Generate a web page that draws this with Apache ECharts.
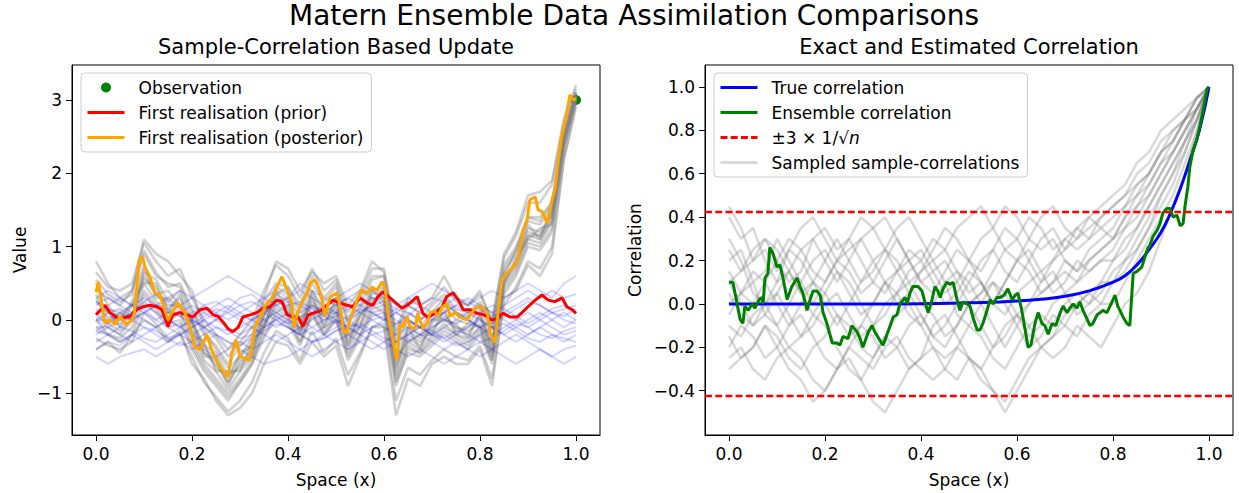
<!DOCTYPE html>
<html>
<head>
<meta charset="utf-8">
<script src="https://cdn.jsdelivr.net/npm/echarts@6/dist/echarts.min.js"></script>
<style>
  html, body { margin: 0; padding: 0; background: #fff; }
  #chart { width: 1239px; height: 493px; }
</style>
</head>
<body>
<div id="chart"></div>
<script>
// shared x grid for the ensemble members
const gridX = [0,0.025,0.05,0.075,0.1,0.125,0.15,0.175,0.2,0.225,0.25,0.275,0.3,0.325,0.35,0.375,0.4,0.425,0.45,0.475,0.5,0.525,0.55,0.575,0.6,0.625,0.65,0.675,0.7,0.725,0.75,0.775,0.8,0.825,0.85,0.875,0.9,0.925,0.95,0.975,1];

// posterior ensemble (grey, left panel)
const posteriorMembers = [
  [0.65,0.45,0.4,0.5,1.05,0.8,0.6,0.7,0.3,0.0,-0.2,-0.4,-0.2,0.0,0.4,0.75,0.6,0.3,0.7,0.4,0.55,0.1,0.35,0.7,0.7,-0.2,0.2,0.1,0.25,0.45,0.25,0.2,0.35,0.0,0.85,1.15,1.6,1.6,1.85,2.7,3.15],
  [-0.25,-0.35,-0.4,-0.3,0.1,-0.05,-0.25,-0.2,-0.5,-0.85,-1.05,-1.25,-1.1,-0.85,-0.45,-0.15,-0.25,-0.55,-0.15,-0.45,-0.25,-0.75,-0.45,-0.1,-0.05,-1.1,-0.65,-0.75,-0.55,-0.4,-0.5,-0.55,-0.35,-0.8,0.2,0.45,0.8,0.7,1.0,2.2,2.95],
  [0.4,0.3,0.2,0.4,0.9,0.6,0.5,0.45,0.1,-0.2,-0.35,-0.6,-0.35,-0.2,0.25,0.5,0.45,0.1,0.5,0.25,0.45,-0.05,0.2,0.55,0.6,-0.35,0.0,-0.1,0.1,0.3,0.1,0.05,0.2,-0.15,0.75,1.0,1.4,1.35,1.6,2.6,3.1],
  [0.0,-0.2,-0.25,-0.1,0.35,0.15,-0.05,0.0,-0.35,-0.65,-0.85,-1.05,-0.85,-0.6,-0.25,0.05,-0.05,-0.35,0.05,-0.2,0.0,-0.55,-0.25,0.05,0.1,-0.85,-0.45,-0.5,-0.35,-0.2,-0.3,-0.4,-0.2,-0.6,0.35,0.6,1.0,0.95,1.2,2.35,3.0],
  [0.3,0.0,0.1,0.0,0.7,0.3,0.3,0.15,0.0,-0.45,-0.55,-0.9,-0.55,-0.5,0.1,0.25,0.3,-0.2,0.35,-0.1,0.3,-0.35,0.1,0.2,0.45,-0.7,-0.1,-0.4,0.0,0.0,-0.05,-0.25,0.1,-0.45,0.6,0.75,1.3,1.1,1.5,2.5,3.05],
  [0.1,0.15,-0.1,0.2,0.5,0.5,0.1,0.35,-0.2,-0.3,-0.7,-0.7,-0.7,-0.3,-0.1,0.4,0.1,0.0,0.2,0.1,0.1,-0.2,-0.1,0.4,0.25,-0.5,-0.3,-0.2,-0.2,0.15,-0.2,-0.05,-0.1,-0.3,0.5,0.85,1.1,1.25,1.3,2.4,3.1],
  [0.8,0.5,0.3,0.4,1.1,0.9,0.8,0.6,0.4,-0.1,-0.25,-0.5,-0.3,-0.1,0.3,0.8,0.7,0.4,0.65,0.5,0.6,0.2,0.4,0.8,0.65,-0.15,0.3,0.2,0.3,0.6,0.3,0.2,0.4,-0.05,0.9,1.2,1.7,1.75,1.9,2.75,3.2],
  [-0.4,-0.3,-0.45,-0.2,0.0,-0.1,-0.3,-0.15,-0.6,-0.8,-1.1,-1.3,-1.2,-1.0,-0.6,-0.3,-0.35,-0.6,-0.3,-0.5,-0.35,-0.9,-0.5,-0.1,-0.1,-1.3,-0.8,-0.9,-0.6,-0.5,-0.6,-0.6,-0.4,-0.9,0.3,0.4,0.75,0.6,0.9,2.2,2.9],
  [0.5,0.2,0.0,0.25,0.75,0.35,0.4,0.2,-0.05,-0.5,-0.5,-0.85,-0.45,-0.35,0.15,0.35,0.25,-0.15,0.4,0.05,0.25,-0.25,0.05,0.35,0.4,-0.55,-0.15,-0.25,-0.05,0.1,-0.15,-0.1,0.05,-0.35,0.65,0.9,1.25,1.2,1.45,2.5,3.05],
  [-0.1,-0.1,-0.2,0.0,0.4,0.2,0.0,0.1,-0.3,-0.6,-0.8,-1.0,-0.8,-0.55,-0.2,0.1,0.0,-0.3,0.1,-0.15,0.05,-0.5,-0.2,0.15,0.2,-0.9,-0.4,-0.45,-0.3,-0.15,-0.25,-0.35,-0.15,-0.55,0.4,0.65,1.05,1.0,1.25,2.35,3.0],
  [0.35,0.1,0.15,0.05,0.65,0.55,0.25,0.4,0.0,-0.35,-0.45,-0.75,-0.5,-0.25,0.05,0.45,0.35,0.0,0.4,0.15,0.3,-0.2,0.15,0.4,0.45,-0.45,-0.1,-0.2,0.0,0.2,0.0,-0.05,0.15,-0.3,0.6,0.95,1.35,1.3,1.55,2.55,3.1],
  [0.1,-0.05,-0.15,0.0,0.5,0.25,0.1,0.1,-0.2,-0.55,-0.7,-0.95,-0.7,-0.5,-0.1,0.2,0.1,-0.2,0.2,-0.1,0.1,-0.4,-0.1,0.2,0.25,-0.75,-0.3,-0.4,-0.2,-0.05,-0.2,-0.25,-0.1,-0.5,0.45,0.7,1.1,1.05,1.35,2.4,3.0],
  [0.55,0.35,0.25,0.35,0.95,0.65,0.45,0.5,0.15,-0.15,-0.4,-0.65,-0.5,-0.35,-0.05,0.15,0.05,-0.3,0.1,-0.2,0.0,-0.45,-0.2,0.1,0.15,-0.8,-0.35,-0.45,-0.25,-0.1,-0.2,-0.3,-0.1,-0.55,0.5,0.75,1.15,1.1,1.35,2.45,3.05],
  [-0.15,-0.2,-0.3,-0.2,0.25,0.1,-0.1,-0.05,-0.4,-0.7,-0.9,-1.1,-0.85,-0.6,-0.1,0.35,0.45,0.2,0.6,0.3,0.5,0.0,0.3,0.6,0.6,-0.3,0.1,0.0,0.2,0.35,0.15,0.1,0.25,-0.1,0.7,0.95,1.4,1.4,1.6,2.6,3.1],
  [0.25,0.1,0.05,0.2,0.55,0.45,0.15,0.3,-0.05,-0.35,-0.65,-0.75,-0.65,-0.45,0.05,0.3,0.15,-0.05,0.25,0.05,0.15,-0.3,0.05,0.25,0.35,-0.65,-0.2,-0.3,-0.15,0.05,-0.1,-0.2,0.05,-0.4,0.55,0.8,1.2,1.15,1.45,2.45,3.05],
  [0.0,0.0,-0.05,0.05,0.6,0.35,0.2,0.2,-0.15,-0.45,-0.6,-0.85,-0.6,-0.4,-0.05,0.25,0.2,-0.15,0.3,-0.05,0.2,-0.35,-0.05,0.3,0.3,-0.6,-0.25,-0.35,-0.1,0.0,-0.1,-0.15,-0.05,-0.45,0.5,0.8,1.15,1.15,1.4,2.5,3.05]
];

// prior ensemble (faint blue, left panel)
const priorMembers = [
  [0.1,0.2,0.3,0.2,0.1,0.2,0.3,0.4,0.3,0.2,0.1,0.0,0.1,0.2,0.3,0.4,0.3,0.5,0.4,0.3,0.2,0.3,0.4,0.3,0.2,0.1,0.2,0.1,0.0,0.1,0.2,0.3,0.2,0.1,0.2,0.3,0.4,0.3,0.4,0.3,0.35],
  [-0.4,-0.3,-0.35,-0.2,-0.3,-0.4,-0.3,-0.2,-0.3,-0.4,-0.5,-0.4,-0.3,-0.4,-0.3,-0.2,-0.3,-0.4,-0.5,-0.4,-0.3,-0.2,-0.3,-0.4,-0.3,-0.2,-0.1,-0.2,-0.3,-0.4,-0.3,-0.4,-0.5,-0.4,-0.3,-0.2,-0.3,-0.4,-0.5,-0.4,-0.35],
  [0.0,0.1,-0.1,0.0,0.1,0.0,-0.1,-0.2,-0.1,0.0,0.1,0.2,0.1,0.0,-0.1,0.0,0.1,0.0,-0.1,-0.2,-0.1,0.0,0.1,0.2,0.1,0.0,-0.1,0.0,0.1,0.2,0.1,0.0,-0.1,0.0,0.1,0.0,-0.1,0.0,0.1,0.0,-0.05],
  [0.2,0.3,0.2,0.1,0.0,-0.1,0.0,0.1,0.2,0.1,0.0,-0.1,-0.2,-0.1,0.0,0.1,0.0,-0.1,0.0,0.1,0.2,0.3,0.2,0.1,0.0,0.1,0.0,-0.1,-0.2,-0.1,0.0,0.1,0.2,0.1,0.0,-0.1,-0.2,-0.1,0.0,0.1,0.0],
  [-0.2,-0.1,-0.2,-0.3,-0.2,-0.1,0.0,-0.1,-0.2,-0.1,0.0,0.1,0.0,-0.1,-0.2,-0.3,-0.2,-0.1,-0.2,-0.1,0.0,-0.1,-0.2,-0.3,-0.4,-0.3,-0.2,-0.1,-0.2,-0.3,-0.2,-0.1,0.0,-0.1,-0.2,-0.3,-0.2,-0.1,-0.2,-0.3,-0.2],
  [0.3,0.4,0.3,0.2,0.3,0.2,0.1,0.2,0.3,0.4,0.5,0.6,0.5,0.4,0.3,0.2,0.3,0.4,0.3,0.2,0.3,0.4,0.5,0.4,0.3,0.2,0.3,0.4,0.5,0.4,0.3,0.2,0.3,0.4,0.3,0.4,0.5,0.4,0.3,0.5,0.6],
  [-0.5,-0.6,-0.5,-0.45,-0.4,-0.5,-0.4,-0.3,-0.4,-0.3,-0.2,-0.3,-0.4,-0.5,-0.6,-0.55,-0.5,-0.4,-0.3,-0.2,-0.3,-0.4,-0.3,-0.2,-0.3,-0.4,-0.5,-0.4,-0.5,-0.6,-0.5,-0.4,-0.3,-0.4,-0.5,-0.6,-0.5,-0.4,-0.5,-0.6,-0.5],
  [0.05,-0.05,0.1,0.2,0.15,0.0,0.1,0.05,-0.05,0.05,0.15,0.1,0.2,0.25,0.15,0.05,-0.05,0.05,0.1,0.2,0.1,0.0,-0.1,0.0,0.05,0.15,0.25,0.2,0.1,0.0,-0.05,0.05,0.1,0.2,0.15,0.05,-0.05,0.05,0.15,0.2,0.1],
  [-0.1,-0.2,-0.3,-0.2,-0.1,-0.15,-0.25,-0.35,-0.3,-0.2,-0.1,-0.15,-0.25,-0.2,-0.1,0.0,-0.1,-0.2,-0.3,-0.25,-0.15,-0.05,-0.1,-0.2,-0.15,-0.05,0.0,-0.1,-0.2,-0.25,-0.15,-0.2,-0.3,-0.25,-0.15,-0.05,-0.1,-0.2,-0.25,-0.15,-0.1],
  [0.15,0.05,0.0,0.1,0.25,0.35,0.25,0.1,0.0,-0.1,0.0,0.15,0.3,0.35,0.2,0.1,0.2,0.25,0.15,0.05,-0.05,0.05,0.15,0.1,0.0,-0.05,0.05,0.2,0.3,0.25,0.1,0.0,-0.1,-0.05,0.05,0.15,0.25,0.2,0.1,0.05,0.15],
  [0.0,-0.1,0.0,0.1,0.2,0.1,0.0,-0.1,0.0,0.1,0.2,0.3,0.2,0.1,0.0,-0.1,0.0,0.1,0.2,0.1,0.0,-0.1,-0.2,-0.1,0.0,0.1,0.0,-0.1,0.0,0.1,0.2,0.1,0.0,-0.1,-0.2,-0.1,0.0,0.1,0.0,-0.1,0.0],
  [-0.15,-0.05,0.05,0.0,-0.1,-0.2,-0.3,-0.2,-0.1,0.0,-0.1,-0.2,-0.1,0.0,0.1,0.0,-0.1,-0.2,-0.1,0.0,0.1,0.2,0.1,0.0,-0.1,-0.2,-0.3,-0.2,-0.1,0.0,0.1,0.0,-0.1,-0.2,-0.1,0.0,0.1,0.0,-0.1,-0.2,-0.15],
  [0.25,0.15,0.1,0.0,0.1,0.2,0.15,0.05,0.1,0.2,0.25,0.15,0.05,0.0,0.1,0.2,0.25,0.2,0.1,0.0,0.05,0.15,0.2,0.3,0.25,0.15,0.1,0.0,0.1,0.2,0.3,0.25,0.15,0.05,0.1,0.2,0.3,0.2,0.1,0.15,0.2],
  [-0.3,-0.2,-0.1,-0.15,-0.25,-0.3,-0.2,-0.1,0.0,-0.1,-0.2,-0.3,-0.35,-0.25,-0.15,-0.05,-0.1,-0.2,-0.3,-0.25,-0.15,-0.1,-0.05,-0.15,-0.25,-0.3,-0.2,-0.1,-0.15,-0.25,-0.35,-0.3,-0.2,-0.1,-0.05,-0.15,-0.25,-0.3,-0.2,-0.25,-0.3]
];

// first realisation, prior and posterior  [x, value]
const firstPrior = [[0,0.07],[0.019,0.2],[0.029,0.1],[0.044,0.03],[0.058,0.03],[0.071,0.05],[0.085,0.14],[0.098,0.18],[0.1125,0.2],[0.127,0.18],[0.1375,0.14],[0.15,-0.09],[0.16,0.07],[0.175,0.1],[0.19,0.07],[0.202,0.04],[0.217,0.14],[0.231,0.16],[0.244,0.07],[0.254,0.05],[0.265,-0.03],[0.275,-0.12],[0.285,-0.16],[0.296,-0.1],[0.306,0.04],[0.321,0.07],[0.335,0.1],[0.348,0.16],[0.3625,0.18],[0.377,0.27],[0.3875,0.25],[0.398,0.07],[0.41,0.04],[0.421,0.04],[0.431,-0.09],[0.442,0.07],[0.456,0.1],[0.467,0.12],[0.481,0.2],[0.494,0.27],[0.508,0.23],[0.523,0.2],[0.535,0.18],[0.55,0.3],[0.565,0.23],[0.577,0.2],[0.5875,0.32],[0.598,0.38],[0.6125,0.3],[0.627,0.22],[0.6375,0.16],[0.648,0.2],[0.658,0.25],[0.669,0.32],[0.681,0.09],[0.692,0.03],[0.706,0.09],[0.721,0.18],[0.731,0.32],[0.744,0.37],[0.754,0.28],[0.765,0.14],[0.779,0.14],[0.794,0.09],[0.808,0.07],[0.825,0.0],[0.835,0.02],[0.848,0.09],[0.8625,0.04],[0.877,0.04],[0.8875,0.1],[0.9,0.18],[0.915,0.27],[0.929,0.34],[0.942,0.27],[0.956,0.25],[0.971,0.3],[0.981,0.18],[0.992,0.14],[1,0.09]];
const firstPosterior = [[0,0.38],[0.005,0.52],[0.018,-0.04],[0.03,0.0],[0.04,-0.06],[0.05,0.05],[0.063,-0.06],[0.075,0.0],[0.08,0.1],[0.086,0.5],[0.09,0.82],[0.097,0.86],[0.102,0.72],[0.112,0.59],[0.123,0.37],[0.133,0.35],[0.14,0.2],[0.15,0.0],[0.158,0.1],[0.171,0.23],[0.185,0.1],[0.196,-0.1],[0.206,-0.37],[0.217,-0.4],[0.231,-0.2],[0.242,-0.43],[0.258,-0.64],[0.275,-0.78],[0.283,-0.45],[0.292,-0.27],[0.3,-0.5],[0.3125,-0.53],[0.32,-0.55],[0.331,-0.1],[0.342,0.04],[0.356,0.23],[0.367,0.3],[0.377,0.45],[0.3875,0.59],[0.398,0.41],[0.408,0.23],[0.4125,-0.11],[0.42,0.1],[0.431,0.27],[0.44,0.36],[0.446,0.5],[0.456,0.55],[0.4625,0.46],[0.471,0.27],[0.477,0.05],[0.4875,0.31],[0.502,0.37],[0.508,0.2],[0.515,-0.14],[0.523,-0.18],[0.529,0.0],[0.544,0.27],[0.554,0.41],[0.565,0.36],[0.575,0.45],[0.585,0.4],[0.596,0.52],[0.602,0.45],[0.608,0.09],[0.617,-0.23],[0.627,-0.55],[0.633,-0.05],[0.64,-0.1],[0.648,0.05],[0.654,-0.09],[0.665,-0.12],[0.67,0.09],[0.681,-0.12],[0.69,-0.04],[0.696,0.1],[0.706,0.12],[0.7125,0.05],[0.721,0.18],[0.731,0.22],[0.7375,0.05],[0.748,0.1],[0.758,0.04],[0.773,0.0],[0.783,0.1],[0.794,0.18],[0.804,0.18],[0.815,0.1],[0.821,-0.18],[0.831,-0.31],[0.8375,0.1],[0.846,0.55],[0.856,0.64],[0.869,0.72],[0.879,0.82],[0.89,1.23],[0.898,1.36],[0.904,1.64],[0.915,1.68],[0.921,1.5],[0.929,1.48],[0.94,1.32],[0.95,1.64],[0.956,1.77],[0.9625,2.14],[0.971,2.55],[0.977,2.69],[0.983,2.91],[0.9875,3.07],[0.994,3.0],[1,3.02]];
const observation = [[1.0, 3.0]];

// right panel: sampled sample-correlations (grey)
const sampleCorrMembers = [
  [0.2,0.25,0.1,0.15,0.3,0.2,0.1,0.0,0.1,0.2,0.15,0.05,0.1,0.2,0.3,0.2,0.1,0.05,0.15,0.25,0.2,0.1,0.0,0.1,0.2,0.25,0.15,0.2,0.3,0.25,0.3,0.35,0.3,0.4,0.5,0.55,0.65,0.7,0.8,0.9,1.0],
  [-0.2,-0.1,-0.15,-0.25,-0.2,-0.1,-0.05,-0.15,-0.25,-0.3,-0.2,-0.1,-0.15,-0.25,-0.2,-0.1,-0.05,-0.15,-0.2,-0.1,0.0,-0.1,-0.2,-0.15,-0.05,-0.1,-0.2,-0.15,-0.05,0.0,0.05,0.0,0.1,0.2,0.25,0.35,0.45,0.55,0.7,0.85,1.0],
  [0.4,0.3,0.35,0.2,0.1,0.15,0.25,0.3,0.2,0.1,0.2,0.3,0.35,0.4,0.3,0.2,0.1,0.15,0.2,0.1,0.0,0.05,0.15,0.25,0.3,0.4,0.35,0.25,0.3,0.35,0.3,0.4,0.45,0.5,0.6,0.65,0.75,0.8,0.85,0.95,1.0],
  [0.0,0.05,0.1,-0.05,-0.1,0.0,0.1,0.2,0.25,0.15,0.05,-0.05,0.0,0.1,0.05,-0.05,-0.1,0.0,0.1,0.15,0.05,0.1,0.0,-0.05,0.05,0.1,0.15,0.05,0.1,0.2,0.15,0.2,0.25,0.35,0.4,0.5,0.6,0.7,0.8,0.9,1.0],
  [-0.3,-0.25,-0.2,-0.1,-0.2,-0.3,-0.35,-0.45,-0.4,-0.3,-0.25,-0.35,-0.45,-0.5,-0.4,-0.3,-0.25,-0.2,-0.3,-0.35,-0.25,-0.3,-0.4,-0.45,-0.35,-0.25,-0.2,-0.15,-0.1,-0.15,-0.05,0.0,0.0,0.1,0.2,0.3,0.4,0.5,0.65,0.8,1.0],
  [0.1,0.15,0.25,0.3,0.2,0.1,0.15,0.3,0.35,0.25,0.3,0.4,0.35,0.25,0.15,0.2,0.25,0.15,0.05,0.1,0.2,0.3,0.35,0.45,0.4,0.3,0.25,0.3,0.2,0.15,0.25,0.3,0.35,0.45,0.55,0.6,0.7,0.75,0.85,0.95,1.0],
  [-0.1,-0.15,-0.05,0.0,-0.1,-0.2,-0.15,-0.05,-0.1,-0.2,-0.3,-0.35,-0.25,-0.15,-0.2,-0.3,-0.25,-0.1,-0.05,-0.15,-0.25,-0.3,-0.2,-0.1,-0.05,-0.15,-0.1,0.0,0.05,-0.05,0.0,0.05,0.15,0.2,0.3,0.4,0.5,0.6,0.75,0.85,1.0],
  [0.3,0.2,0.05,0.0,0.1,0.25,0.2,0.1,0.0,-0.1,0.0,0.1,0.2,0.1,0.0,0.05,0.15,0.2,0.1,-0.05,-0.1,0.0,0.1,0.05,-0.05,0.0,0.05,0.1,0.15,0.1,0.2,0.25,0.3,0.35,0.45,0.5,0.6,0.7,0.8,0.9,1.0],
  [-0.25,-0.2,-0.3,-0.35,-0.25,-0.2,-0.25,-0.35,-0.4,-0.3,-0.2,-0.25,-0.3,-0.2,-0.15,-0.25,-0.3,-0.35,-0.3,-0.2,-0.25,-0.35,-0.4,-0.5,-0.4,-0.3,-0.2,-0.25,-0.2,-0.1,-0.15,-0.2,-0.1,0.0,0.05,0.15,0.3,0.45,0.6,0.8,1.0],
  [0.45,0.35,0.2,0.25,0.15,0.25,0.35,0.4,0.3,0.2,0.25,0.3,0.2,0.25,0.35,0.4,0.3,0.2,0.25,0.35,0.4,0.45,0.35,0.25,0.2,0.3,0.4,0.45,0.35,0.3,0.4,0.45,0.5,0.55,0.65,0.7,0.8,0.85,0.9,0.95,1.0],
  [0.05,-0.05,-0.1,0.0,0.05,-0.05,-0.15,-0.1,0.0,0.05,-0.05,-0.15,-0.1,0.0,0.05,0.1,0.0,-0.05,-0.15,-0.1,0.0,0.05,0.1,0.0,-0.1,-0.2,-0.15,-0.05,-0.1,0.0,0.05,0.1,0.2,0.25,0.35,0.45,0.55,0.65,0.75,0.9,1.0],
  [0.15,0.05,0.0,0.1,0.2,0.3,0.25,0.15,0.1,0.2,0.3,0.2,0.1,0.05,0.15,0.25,0.2,0.3,0.25,0.15,0.1,0.2,0.25,0.15,0.1,0.2,0.3,0.35,0.25,0.3,0.35,0.4,0.45,0.5,0.55,0.6,0.7,0.75,0.85,0.9,1.0],
  [0.1,0.0,-0.1,-0.05,0.05,0.15,0.05,-0.05,0.05,0.15,0.1,0.0,-0.1,-0.05,0.05,0.15,0.2,0.1,0.0,0.05,0.15,0.1,0.0,0.1,0.2,0.15,0.05,0.1,0.2,0.15,0.2,0.25,0.3,0.4,0.45,0.55,0.65,0.75,0.85,0.9,1.0],
  [-0.05,0.05,0.15,0.1,0.0,-0.1,0.0,0.1,0.05,-0.05,-0.15,-0.1,0.0,0.1,0.15,0.05,-0.05,-0.15,-0.1,0.0,0.1,0.0,-0.1,-0.2,-0.1,0.0,0.1,0.15,0.05,0.1,0.15,0.2,0.2,0.3,0.35,0.45,0.55,0.65,0.75,0.85,1.0],
  [0.25,0.15,0.2,0.3,0.25,0.15,0.05,0.1,0.2,0.3,0.2,0.1,0.15,0.25,0.2,0.1,0.15,0.25,0.35,0.3,0.2,0.15,0.25,0.35,0.3,0.2,0.1,0.2,0.25,0.35,0.4,0.35,0.4,0.45,0.5,0.6,0.7,0.8,0.85,0.95,1.0],
  [-0.15,-0.25,-0.2,-0.1,-0.15,-0.25,-0.3,-0.2,-0.15,-0.05,-0.1,-0.2,-0.25,-0.15,-0.05,0.0,-0.1,-0.2,-0.25,-0.2,-0.1,-0.15,-0.25,-0.3,-0.2,-0.1,-0.05,-0.1,0.0,0.05,0.0,0.1,0.1,0.15,0.25,0.35,0.5,0.6,0.7,0.85,1.0]
];

const trueCorr = [[0,0],[0.1,0],[0.2,0],[0.3,0],[0.4,0.001],[0.5,0.005],[0.55,0.008],[0.6,0.013],[0.65,0.022],[0.7,0.035],[0.75,0.06],[0.8,0.1],[0.825,0.13],[0.85,0.18],[0.875,0.25],[0.9,0.33],[0.92,0.42],[0.94,0.53],[0.96,0.66],[0.98,0.8],[1,1]];
const ensembleCorr = [[0,0.1],[0.008,0.1],[0.017,0.0],[0.023,-0.07],[0.029,-0.09],[0.033,-0.01],[0.04,-0.03],[0.048,0.0],[0.054,-0.02],[0.0625,0.02],[0.069,0.03],[0.071,0.0],[0.075,0.12],[0.081,0.14],[0.085,0.26],[0.092,0.23],[0.1,0.17],[0.106,0.18],[0.1125,0.12],[0.121,0.02],[0.131,0.08],[0.142,0.12],[0.148,0.08],[0.154,0.05],[0.1625,-0.03],[0.169,0.02],[0.175,0.06],[0.183,0.06],[0.19,0.04],[0.196,-0.04],[0.204,-0.09],[0.215,-0.18],[0.225,-0.18],[0.231,-0.19],[0.2375,-0.15],[0.248,-0.16],[0.256,-0.1],[0.267,-0.13],[0.273,-0.16],[0.279,-0.2],[0.29,-0.13],[0.298,-0.1],[0.304,-0.13],[0.315,-0.17],[0.321,-0.19],[0.331,-0.13],[0.342,-0.06],[0.35,-0.05],[0.356,0.0],[0.367,0.03],[0.371,0.0],[0.377,0.05],[0.383,0.08],[0.394,0.08],[0.402,0.06],[0.408,0.01],[0.415,-0.04],[0.423,0.02],[0.429,0.08],[0.435,0.06],[0.44,0.03],[0.446,0.07],[0.454,0.1],[0.46,0.09],[0.467,0.1],[0.475,0.02],[0.481,-0.03],[0.4875,0.01],[0.496,0.0],[0.502,-0.01],[0.508,-0.06],[0.517,-0.12],[0.523,-0.12],[0.529,-0.09],[0.5375,-0.03],[0.544,0.02],[0.55,0.0],[0.558,0.03],[0.565,0.03],[0.573,0.04],[0.581,0.07],[0.59,0.02],[0.596,0.04],[0.602,0.05],[0.61,-0.03],[0.617,-0.12],[0.623,-0.2],[0.629,-0.19],[0.6375,-0.09],[0.644,-0.04],[0.652,-0.09],[0.658,-0.1],[0.665,-0.14],[0.673,-0.09],[0.681,-0.1],[0.69,-0.04],[0.696,-0.01],[0.704,-0.04],[0.71,-0.02],[0.717,0.0],[0.725,-0.02],[0.731,0.01],[0.7375,-0.03],[0.746,-0.07],[0.752,-0.1],[0.758,-0.09],[0.767,-0.05],[0.773,-0.04],[0.779,-0.03],[0.7875,-0.04],[0.798,0.01],[0.804,0.04],[0.81,-0.01],[0.821,-0.06],[0.829,-0.09],[0.835,-0.1],[0.842,0.14],[0.85,0.15],[0.86,0.17],[0.867,0.22],[0.873,0.26],[0.877,0.27],[0.883,0.31],[0.892,0.34],[0.898,0.37],[0.904,0.42],[0.9125,0.44],[0.919,0.44],[0.925,0.4],[0.933,0.41],[0.94,0.36],[0.946,0.37],[0.95,0.45],[0.956,0.54],[0.96,0.63],[0.967,0.71],[0.975,0.76],[0.981,0.82],[0.9875,0.89],[0.996,0.99],[1,1]];
const bandLevel = 0.424; // 3 / sqrt(50)

const font = "'DejaVu Sans', sans-serif";
const minus = (s) => s.replace('-', '\u2212');
const noMarker = { color: 'rgba(0,0,0,0)', borderColor: 'rgba(0,0,0,0)', borderWidth: 0 };

function members(list, axis, name, color, width) {
  return list.map((ys) => ({
    type: 'line', name: name, xAxisIndex: axis, yAxisIndex: axis,
    data: ys.map((y, i) => [gridX[i], y]),
    symbol: 'none', silent: true, animation: false,
    lineStyle: { color: color, width: width }, itemStyle: { color: color }
  }));
}

function xAxisFor(idx) {
  return {
    type: 'value', gridIndex: idx, min: -0.05, max: 1.05,
    name: 'Space (x)', nameLocation: 'middle', nameGap: 36,
    nameTextStyle: { fontFamily: font, fontSize: 17, color: '#000' },
    axisLine: { show: true, onZero: false, lineStyle: { color: '#000', width: 1 } },
    axisTick: { show: true, length: 6, lineStyle: { color: '#000' }, customValues: [0, 0.2, 0.4, 0.6, 0.8, 1.0] },
    axisLabel: { fontFamily: font, fontSize: 17, color: '#000', margin: 10,
      customValues: [0, 0.2, 0.4, 0.6, 0.8, 1.0], formatter: (v) => v.toFixed(1) },
    splitLine: { show: false }
  };
}

const series = [];
series.push(...members(posteriorMembers, 0, 'posterior', 'rgba(128,128,128,0.36)', 2.6));
series.push(...members(priorMembers, 0, 'prior', 'rgba(0,0,255,0.17)', 2));
series.push({ type: 'scatter', name: 'Observation', xAxisIndex: 0, yAxisIndex: 0,
  data: observation, symbolSize: 10, itemStyle: { color: '#008000', opacity: 1 }, animation: false });
series.push({ type: 'line', name: 'First realisation (prior)', xAxisIndex: 0, yAxisIndex: 0,
  data: firstPrior, symbol: 'none', lineStyle: { color: '#ff0000', width: 3 }, itemStyle: { color: '#ff0000' }, animation: false });
series.push({ type: 'line', name: 'First realisation (posterior)', xAxisIndex: 0, yAxisIndex: 0,
  data: firstPosterior, symbol: 'none', lineStyle: { color: '#ffa500', width: 3 }, itemStyle: { color: '#ffa500' }, animation: false });

series.push(...members(sampleCorrMembers, 1, 'Sampled sample-correlations', 'rgba(128,128,128,0.3)', 2.5));
series.push({ type: 'line', name: 'True correlation', xAxisIndex: 1, yAxisIndex: 1,
  data: trueCorr, smooth: true, symbol: 'none', lineStyle: { color: '#0000ff', width: 3 }, itemStyle: { color: '#0000ff' }, animation: false });
series.push({ type: 'line', name: 'Ensemble correlation', xAxisIndex: 1, yAxisIndex: 1,
  data: ensembleCorr, symbol: 'none', lineStyle: { color: '#008000', width: 3 }, itemStyle: { color: '#008000' }, animation: false });
[bandLevel, -bandLevel].forEach((lv) => {
  series.push({ type: 'line', name: 'band', xAxisIndex: 1, yAxisIndex: 1,
    data: [[-0.05, lv], [1.05, lv]], symbol: 'none',
    lineStyle: { color: '#ff0000', width: 2.5, type: [7, 3.2] }, itemStyle: { color: '#ff0000' }, animation: false });
});

const legendBase = {
  orient: 'vertical', itemWidth: 37, itemHeight: 10, itemGap: 8,
  padding: [6, 8, 6, 5], backgroundColor: 'rgba(255,255,255,0.8)',
  borderColor: '#cccccc', borderWidth: 1, borderRadius: 4,
  itemStyle: noMarker,
  lineStyle: { width: 3 },
  textStyle: { fontFamily: font, fontSize: 17, color: '#000', lineHeight: 17, padding: [0, 0, 0, 9],
    rich: { it: { fontFamily: font, fontSize: 17, fontStyle: 'italic' } } },
  selectedMode: false
};

const option = {
  animation: false,
  title: [
    { text: 'Matern Ensemble Data Assimilation Comparisons', left: 634, top: 1, textAlign: 'center', padding: 0,
      textStyle: { fontFamily: font, fontSize: 28, fontWeight: 'normal', color: '#000' } },
    { text: 'Sample-Correlation Based Update', left: 336, top: 36, textAlign: 'center', padding: 0,
      textStyle: { fontFamily: font, fontSize: 21, fontWeight: 'normal', color: '#000' } },
    { text: 'Exact and Estimated Correlation', left: 969, top: 36, textAlign: 'center', padding: 0,
      textStyle: { fontFamily: font, fontSize: 21, fontWeight: 'normal', color: '#000' } }
  ],
  legend: [
    Object.assign({}, legendBase, { left: 81, top: 73,
      data: [{ name: 'Observation', icon: 'circle', itemStyle: { color: '#008000', opacity: 1 } },
        'First realisation (prior)', 'First realisation (posterior)'] }),
    Object.assign({}, legendBase, { left: 714, top: 73,
      data: ['True correlation', 'Ensemble correlation', 'band', 'Sampled sample-correlations'],
      formatter: (n) => n === 'band' ? '\u00b13 \u00d7 1/\u221a{it|n}' : n })
  ],
  grid: [
    { left: 72, top: 65, width: 528, height: 370, show: true, borderColor: '#000', borderWidth: 1, backgroundColor: 'transparent' },
    { left: 705, top: 65, width: 528, height: 370, show: true, borderColor: '#000', borderWidth: 1, backgroundColor: 'transparent' }
  ],
  xAxis: [xAxisFor(0), xAxisFor(1)],
  yAxis: [
    { type: 'value', gridIndex: 0, min: -1.569, max: 3.477,
      name: 'Value', nameLocation: 'middle', nameGap: 44,
      nameTextStyle: { fontFamily: font, fontSize: 17, color: '#000' },
      axisLine: { show: true, onZero: false, lineStyle: { color: '#000', width: 1 } },
      axisTick: { show: true, length: 6, lineStyle: { color: '#000' }, customValues: [-1, 0, 1, 2, 3] },
      axisLabel: { fontFamily: font, fontSize: 17, color: '#000', margin: 10,
        customValues: [-1, 0, 1, 2, 3], formatter: (v) => minus(String(v)) },
      splitLine: { show: false } },
    { type: 'value', gridIndex: 1, min: -0.604, max: 1.101,
      name: 'Correlation', nameLocation: 'middle', nameGap: 62,
      nameTextStyle: { fontFamily: font, fontSize: 17, color: '#000' },
      axisLine: { show: true, onZero: false, lineStyle: { color: '#000', width: 1 } },
      axisTick: { show: true, length: 6, lineStyle: { color: '#000' }, customValues: [-0.4, -0.2, 0, 0.2, 0.4, 0.6, 0.8, 1.0] },
      axisLabel: { fontFamily: font, fontSize: 17, color: '#000', margin: 10,
        customValues: [-0.4, -0.2, 0, 0.2, 0.4, 0.6, 0.8, 1.0], formatter: (v) => minus(v.toFixed(1)) },
      splitLine: { show: false } }
  ],
  series: series
};

const chart = echarts.init(document.getElementById('chart'), null, { renderer: 'svg' });
chart.setOption(option);
</script>
</body>
</html>
